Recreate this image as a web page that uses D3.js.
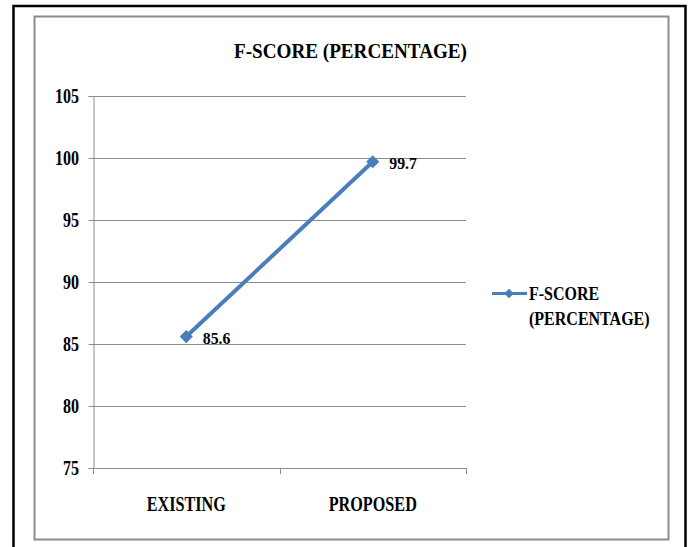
<!DOCTYPE html>
<html><head><meta charset="utf-8">
<script src="https://cdn.jsdelivr.net/npm/d3@7"></script>
<style>
html,body{margin:0;padding:0;background:#fff;}
</style></head>
<body>
<svg id="chart" width="693" height="547"></svg>
<script>
const categories = ["EXISTING", "PROPOSED"];
const values = [85.6, 99.7];
const seriesName = "F-SCORE (PERCENTAGE)";
const legendLines = ["F-SCORE", "(PERCENTAGE)"];
const yTicks = [75, 80, 85, 90, 95, 100, 105];

const svg = d3.select("#chart");
const FONT = "'Liberation Serif', 'Times New Roman', Times, serif";

function ctext(g, x, y, str, size, anchor, sx) {
  return g.append("text")
    .attr("transform", `translate(${x},${y}) scale(${sx},1)`)
    .attr("text-anchor", anchor || "start")
    .attr("font-family", FONT)
    .attr("font-weight", "bold")
    .attr("font-size", size)
    .attr("fill", "#000")
    .text(str);
}

// outer borders
svg.append("rect").attr("x", 13.5).attr("y", 6).attr("width", 672).attr("height", 560)
  .attr("fill", "none").attr("stroke", "#000").attr("stroke-width", 2.5);
svg.append("rect").attr("x", 34.5).attr("y", 16.5).attr("width", 634).attr("height", 523)
  .attr("fill", "none").attr("stroke", "#8c8c8c").attr("stroke-width", 2);

const x = d3.scaleBand().domain(categories).range([93, 466]).padding(0);
const y = d3.scaleLinear().domain([75, 105]).range([468, 96]);

// title
ctext(svg, 350.5, 58, seriesName, 22, "middle", 0.87);

// gridlines
svg.append("g").selectAll("line").data(yTicks).join("line")
  .attr("x1", 93).attr("x2", 466)
  .attr("y1", d => Math.round(y(d)) + 0.5).attr("y2", d => Math.round(y(d)) + 0.5)
  .attr("stroke", "#8c8c8c").attr("stroke-width", 1);

// y axis
const yAxis = d3.axisLeft(y).tickValues(yTicks).tickSize(5).tickFormat(d3.format("d"));
const gy = svg.append("g").attr("transform", "translate(93.5,0)").call(yAxis);
gy.select(".domain").attr("stroke", "#8c8c8c");
gy.selectAll(".tick line").attr("stroke", "#8c8c8c");
gy.selectAll(".tick text").remove();
yTicks.forEach(t => ctext(svg, 79, y(t) + 7, String(t), 20, "end", 0.8));

// x axis
const xAxis = d3.axisBottom(x).tickSize(0).tickFormat("");
const gx = svg.append("g").attr("transform", "translate(0,468.5)").call(xAxis);
gx.select(".domain").attr("stroke", "#8c8c8c").attr("d", "M93,0H466");
gx.selectAll(".tick").remove();
// category boundary ticks
const bounds = [x.range()[0]].concat(categories.map(c => x(c) + x.bandwidth()));
svg.append("g").selectAll("line").data(bounds).join("line")
  .attr("x1", d => Math.round(d) + 0.5).attr("x2", d => Math.round(d) + 0.5)
  .attr("y1", 468).attr("y2", 474)
  .attr("stroke", "#8c8c8c");
categories.forEach(c => ctext(svg, x(c) + x.bandwidth() / 2, 511, c, 20, "middle", 0.81));

// line
const color = "#4a7ebb";
const pts = categories.map((c, i) => [x(c) + x.bandwidth() / 2, y(values[i])]);
svg.append("path").attr("d", d3.line()(pts))
  .attr("fill", "none").attr("stroke", color).attr("stroke-width", 4);
const diamond = d3.symbol().type(d3.symbolDiamond2).size(110);
svg.append("g").selectAll("path").data(pts).join("path")
  .attr("d", diamond)
  .attr("transform", d => `translate(${d[0]},${d[1]})`)
  .attr("fill", color);

// data labels
values.forEach((v, i) => ctext(svg, pts[i][0] + 16.5, pts[i][1] + 7, d3.format(".1f")(v), 17, "start", 0.93));

// legend
svg.append("line").attr("x1", 492).attr("x2", 527).attr("y1", 293.5).attr("y2", 293.5)
  .attr("stroke", color).attr("stroke-width", 3);
svg.append("path").attr("d", d3.symbol().type(d3.symbolDiamond2).size(60))
  .attr("transform", "translate(509,293.5)").attr("fill", color);
ctext(svg, 529, 300, legendLines[0], 18, "start", 0.89);
ctext(svg, 529, 325, legendLines[1], 18, "start", 0.89);
</script>
</body></html>
